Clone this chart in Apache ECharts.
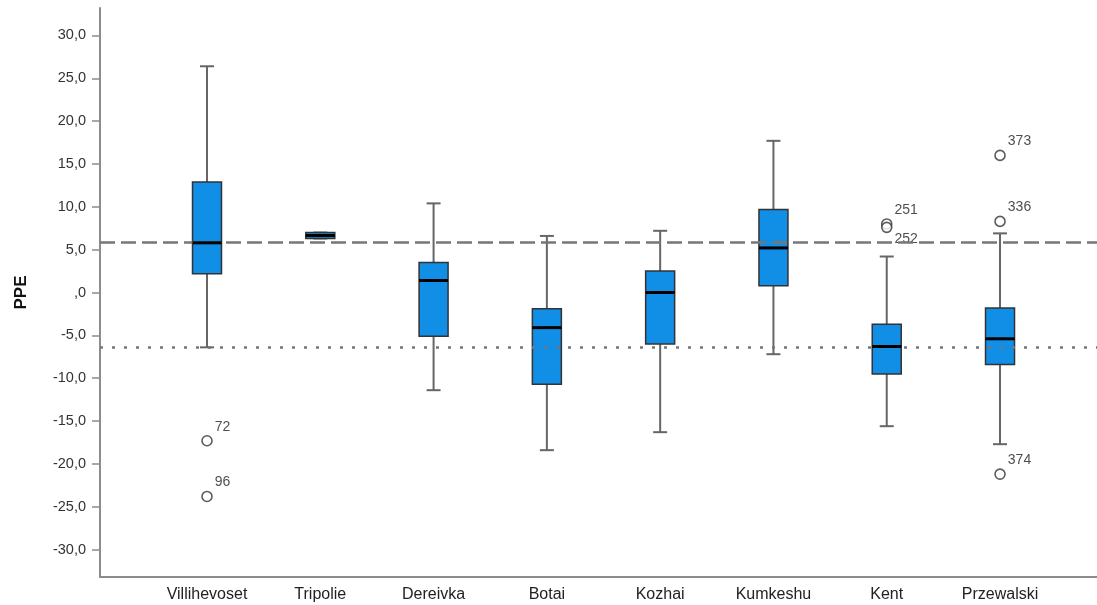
<!DOCTYPE html>
<html>
<head>
<meta charset="utf-8">
<script src="https://cdn.jsdelivr.net/npm/echarts@6/dist/echarts.min.js"></script>
<style>
  html, body { margin: 0; padding: 0; background: #fff; }
  #chart { width: 1097px; height: 605px; }
</style>
</head>
<body>
<div id="chart"></div>
<script>
// Sites along the horizontal axis
const categories = ['Villihevoset', 'Tripolie', 'Dereivka', 'Botai', 'Kozhai', 'Kumkeshu', 'Kent', 'Przewalski'];

// Five-number summaries per site (PPE)
const whiskerLow  = [-6.4, 6.3, -11.4, -18.4, -16.3, -7.2, -15.6, -17.7];
const quartile1   = [ 2.2, 6.3,  -5.1, -10.7,  -6.0,  0.8,  -9.5,  -8.4];
const medians     = [ 5.8, 6.65,  1.4,  -4.1,   0.0,  5.2,  -6.3,  -5.4];
const quartile3   = [12.9, 7.0,   3.5,  -1.9,   2.5,  9.7,  -3.7,  -1.8];
const whiskerHigh = [26.4, 7.0,  10.4,   6.6,   7.2, 17.7,   4.2,   6.9];

// Outlying cases: site index, value, case number
const outlierSite  = [0, 0, 6, 6, 7, 7, 7];
const outlierValue = [-17.3, -23.8, 8.0, 7.6, 16.0, 8.3, -21.2];
const outlierCase  = ['72', '96', '251', '252', '373', '336', '374'];

// Reference levels
const upperRef = 5.9;
const lowerRef = -6.4;

// Value-axis ticks
const yTicks = [-30, -25, -20, -15, -10, -5, 0, 5, 10, 15, 20, 25, 30];

const boxData = categories.map((c, i) => [i, whiskerLow[i], quartile1[i], medians[i], quartile3[i], whiskerHigh[i]]);
const medianData = categories.map((c, i) => [i, medians[i]]);

const outlierData = outlierValue.map((v, i) => {
  // case 252 sits just under 251, so its number goes below the marker
  const below = outlierCase[i] === '252';
  return {
    name: outlierCase[i],
    value: [outlierSite[i], v],
    label: below
      ? { position: 'right', offset: [-3, 12] }
      : { position: 'right', offset: [-3, -14] }
  };
});

const chart = echarts.init(document.getElementById('chart'), null, { renderer: 'canvas' });

const BOX_W = 29;
const CAP_W = 14;
const FONT = 'Liberation Sans, Arial, sans-serif';

chart.setOption({
  animation: false,
  backgroundColor: '#ffffff',
  grid: { left: 100, right: 0, top: 8, bottom: 28, containLabel: false },
  xAxis: {
    type: 'value',
    min: -0.9445,
    max: 7.856,
    splitLine: { show: false },
    axisLine: { show: true, onZero: false, lineStyle: { color: '#8c8c8c', width: 2 } },
    axisTick: { show: false },
    axisLabel: {
      customValues: categories.map((c, i) => i),
      formatter: v => categories[Math.round(v)] || '',
      color: '#222',
      fontFamily: FONT,
      fontSize: 16,
      margin: 10
    }
  },
  yAxis: {
    type: 'value',
    min: -33.2,
    max: 33.2,
    name: 'PPE',
    nameLocation: 'middle',
    nameRotate: 90,
    nameGap: 70,
    nameTextStyle: { fontFamily: FONT, fontSize: 17, fontWeight: 'bold', color: '#111', padding: [0, 0, 0, 0] },
    splitLine: { show: false },
    axisLine: { show: true, onZero: false, lineStyle: { color: '#8c8c8c', width: 2 } },
    axisTick: { show: true, length: 8, customValues: yTicks, lineStyle: { color: '#8c8c8c', width: 1.5 } },
    axisLabel: {
      customValues: yTicks,
      formatter: v => v === 0 ? ',0' : v.toFixed(1).replace('.', ','),
      color: '#333',
      fontFamily: FONT,
      fontSize: 14.5,
      margin: 14
    }
  },
  series: [
    {
      // whiskers, caps and interquartile boxes
      type: 'custom',
      name: 'boxes',
      data: boxData,
      z: 2,
      renderItem: function (params, api) {
        const x = api.value(0);
        const pLow = api.coord([x, api.value(1)]);
        const pQ1 = api.coord([x, api.value(2)]);
        const pQ3 = api.coord([x, api.value(4)]);
        const pHigh = api.coord([x, api.value(5)]);
        const cx = pQ1[0];
        const whiskerStyle = { stroke: '#666', lineWidth: 2 };
        return {
          type: 'group',
          children: [
            { type: 'line', shape: { x1: cx, y1: pQ3[1], x2: cx, y2: pHigh[1] }, style: whiskerStyle },
            { type: 'line', shape: { x1: cx, y1: pQ1[1], x2: cx, y2: pLow[1] }, style: whiskerStyle },
            { type: 'line', shape: { x1: cx - CAP_W / 2, y1: pHigh[1], x2: cx + CAP_W / 2, y2: pHigh[1] }, style: whiskerStyle },
            { type: 'line', shape: { x1: cx - CAP_W / 2, y1: pLow[1], x2: cx + CAP_W / 2, y2: pLow[1] }, style: whiskerStyle },
            {
              type: 'rect',
              shape: { x: cx - BOX_W / 2, y: pQ3[1], width: BOX_W, height: pQ1[1] - pQ3[1] },
              style: { fill: '#118ee6', stroke: '#333', lineWidth: 1.5 }
            }
          ]
        };
      }
    },
    {
      // outlying cases plus the two reference lines
      type: 'scatter',
      name: 'outliers',
      data: outlierData,
      symbol: 'circle',
      symbolSize: 10,
      z: 4,
      itemStyle: { color: '#fff', borderColor: '#333', borderWidth: 1.6 },
      label: {
        show: true,
        formatter: p => p.name,
        color: '#222',
        fontFamily: FONT,
        fontSize: 14
      },
      markLine: {
        silent: true,
        symbol: 'none',
        label: { show: false },
        data: [
          { yAxis: upperRef, lineStyle: { color: '#777', width: 2.5, type: [15, 6] } },
          { yAxis: lowerRef, lineStyle: { color: '#777', width: 2.5, type: [3, 9] } }
        ]
      }
    },
    {
      // medians drawn over the reference lines
      type: 'custom',
      name: 'medians',
      data: medianData,
      z: 6,
      renderItem: function (params, api) {
        const p = api.coord([api.value(0), api.value(1)]);
        return {
          type: 'line',
          shape: { x1: p[0] - BOX_W / 2, y1: p[1], x2: p[0] + BOX_W / 2, y2: p[1] },
          style: { stroke: '#000', lineWidth: 3 }
        };
      }
    }
  ]
});
</script>
</body>
</html>
